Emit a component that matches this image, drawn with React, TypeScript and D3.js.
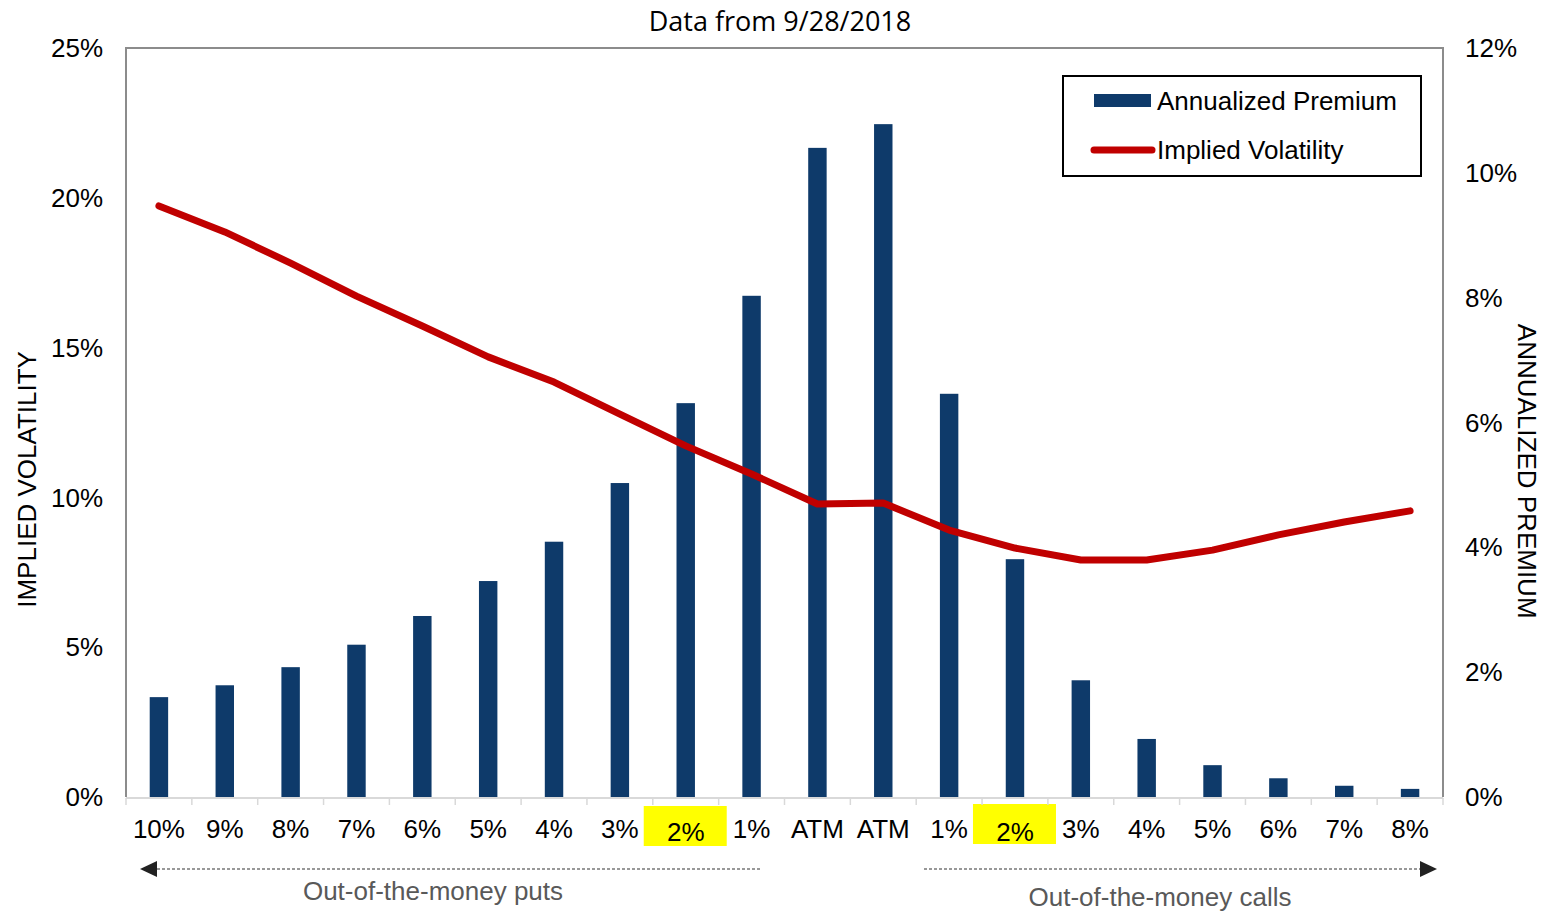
import React from 'react';
import * as d3 from 'd3';

const categories = ['10%', '9%', '8%', '7%', '6%', '5%', '4%', '3%', '2%', '1%', 'ATM', 'ATM', '1%', '2%', '3%', '4%', '5%', '6%', '7%', '8%'];
const highlighted = [8, 13];
// annualized premium, % (right axis)
const premium = [1.6, 1.79, 2.08, 2.44, 2.9, 3.46, 4.09, 5.03, 6.31, 8.03, 10.4, 10.78, 6.46, 3.81, 1.87, 0.93, 0.51, 0.3, 0.18, 0.13];
// implied volatility, % (left axis)
const impliedVol = [19.73, 18.86, 17.82, 16.72, 15.72, 14.69, 13.85, 12.78, 11.72, 10.78, 9.78, 9.81, 8.91, 8.31, 7.91, 7.91, 8.24, 8.75, 9.18, 9.55];
const leftTicks = [0, 5, 10, 15, 20, 25];
const rightTicks = [0, 2, 4, 6, 8, 10, 12];

const W = 1553;
const H = 913;
const m = { left: 126, right: 110, top: 48, bottom: 116 };
const FONT = '"Liberation Sans", Arial, sans-serif';
const FS = 26;
const NAVY = '#0E3A6A';
const RED = '#C00000';

const App: React.FC = () => {
  const iw = W - m.left - m.right;
  const ih = H - m.top - m.bottom;

  const x = d3.scaleBand<number>()
    .domain(d3.range(categories.length))
    .range([0, iw])
    .paddingInner(0.72)
    .paddingOuter(0.36);
  const step = x.step();
  const yL = d3.scaleLinear().domain([0, 25]).range([ih, 0]);
  const yR = d3.scaleLinear().domain([0, 12]).range([ih, 0]);

  const line = d3.line<number>()
    .x((_, i) => (x(i) as number) + x.bandwidth() / 2)
    .y(d => yL(d));

  return (
    <svg width={W} height={H} style={{ position: 'absolute', left: 0, top: 0, background: '#fff' }}>
      <text x={780} y={31} textAnchor="middle" fontFamily='"Open Sans", sans-serif' fontSize={27} fill="#000">
        Data from 9/28/2018
      </text>
      <g transform={`translate(${m.left},${m.top})`} fontFamily={FONT}>
        {/* frame */}
        <path d={`M0,${ih}V0H${iw}V${ih}`} fill="none" stroke="#8c8c8c" strokeWidth={2} />

        {/* x highlights */}
        {highlighted.map((i, k) => (
          <rect key={i} x={(x(i) as number) + x.bandwidth() / 2 - 42} y={ih + (k === 0 ? 9 : 7)} width={83} height={40} fill="#FFFF00" />
        ))}

        {/* bars */}
        {premium.map((v, i) => (
          <rect key={i} x={x(i)} y={yR(v)} width={x.bandwidth()} height={ih - yR(v)} fill={NAVY} />
        ))}

        {/* baseline and ticks */}
        <line x1={0} x2={iw} y1={ih + 1} y2={ih + 1} stroke="#d9d9d9" strokeWidth={2} />
        {d3.range(categories.length + 1).map(i => (
          <line key={i} x1={i * step} x2={i * step} y1={ih + 1} y2={ih + 8} stroke="#d9d9d9" strokeWidth={1.5} />
        ))}

        {/* line */}
        <path d={line(impliedVol) || ''} fill="none" stroke={RED} strokeWidth={7} strokeLinejoin="round" strokeLinecap="round" />

        {/* left axis */}
        {leftTicks.map(t => (
          <text key={t} x={-23} y={yL(t)} dy="0.35em" textAnchor="end" fontSize={FS} fill="#000">{t}%</text>
        ))}
        {/* right axis */}
        {rightTicks.map(t => (
          <text key={t} x={iw + 22} y={yR(t)} dy="0.35em" textAnchor="start" fontSize={FS} fill="#000">{t}%</text>
        ))}

        {/* category labels */}
        {categories.map((c, i) => (
          <text key={i} x={(x(i) as number) + x.bandwidth() / 2} y={ih + (highlighted.includes(i) ? 44 : 41)} textAnchor="middle" fontSize={FS} fill="#000">{c}</text>
        ))}

        <text transform={`translate(${-90},${yL(10.6)}) rotate(-90)`} textAnchor="middle" fontSize={FS} fill="#000">IMPLIED VOLATILITY</text>
        <text transform={`translate(${iw + 75},${yR(5.22)}) rotate(90)`} textAnchor="middle" fontSize={FS} fill="#000">ANNUALIZED PREMIUM</text>
      </g>

      {/* moneyness arrows */}
      <g fontFamily={FONT}>
        <line x1={152} x2={760} y1={869} y2={869} stroke="#333" strokeWidth={1.2} strokeDasharray="3,2" />
        <path d="M140,869L157,861L157,877Z" fill="#222" />
        <text x={433} y={900} textAnchor="middle" fontSize={FS} fill="#595959">Out-of-the-money puts</text>

        <line x1={924} x2={1424} y1={869} y2={869} stroke="#333" strokeWidth={1.2} strokeDasharray="3,2" />
        <path d="M1437,869L1420,861L1420,877Z" fill="#222" />
        <text x={1160} y={906} textAnchor="middle" fontSize={FS} fill="#595959">Out-of-the-money calls</text>
      </g>

      {/* legend */}
      <g fontFamily={FONT}>
        <rect x={1063} y={76} width={358} height={100} fill="#fff" stroke="#000" strokeWidth={2} />
        <rect x={1094} y={94} width={57} height={13} fill={NAVY} />
        <text x={1157} y={101} dy="0.35em" fontSize={FS} fill="#000">Annualized Premium</text>
        <line x1={1094} x2={1152} y1={150} y2={150} stroke={RED} strokeWidth={7} strokeLinecap="round" />
        <text x={1157} y={150} dy="0.35em" fontSize={FS} fill="#000">Implied Volatility</text>
      </g>
    </svg>
  );
};

export default App;
